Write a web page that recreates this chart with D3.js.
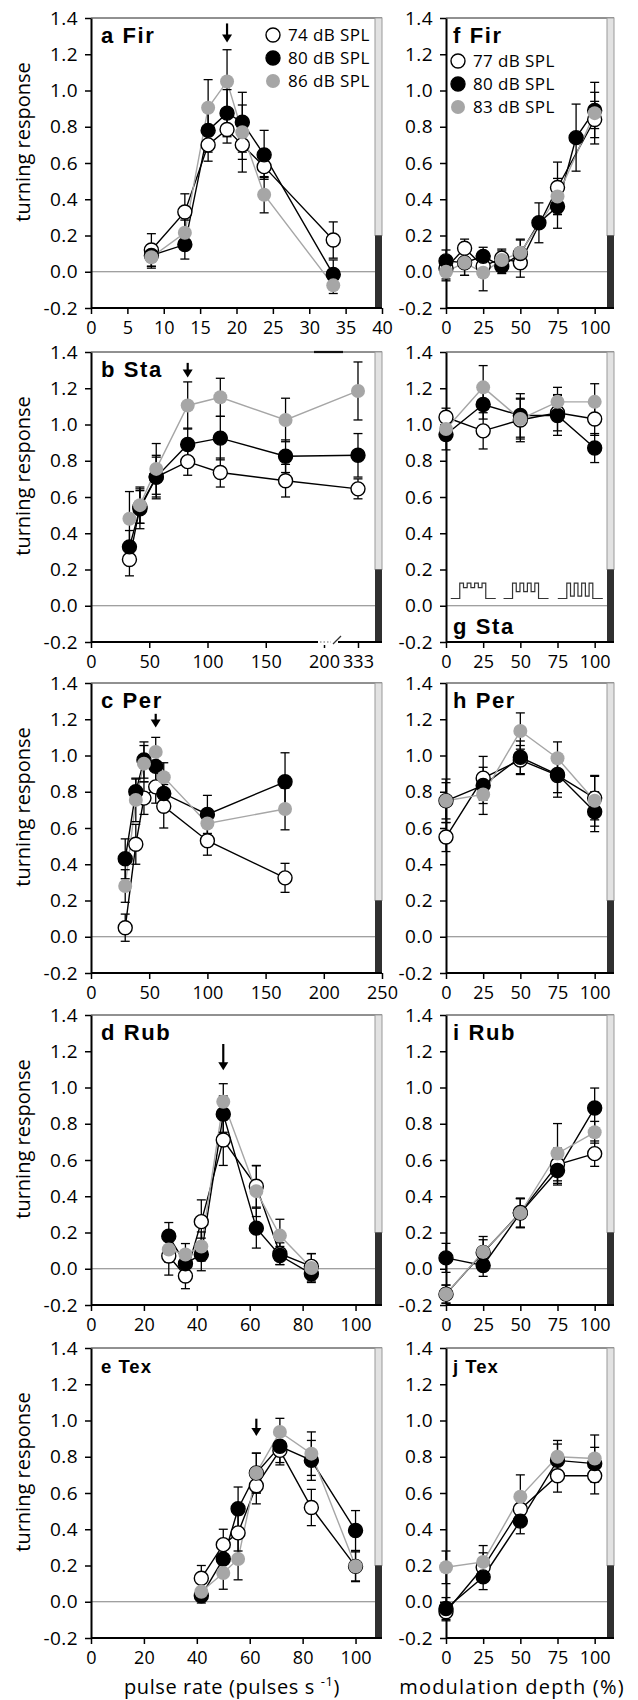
<!DOCTYPE html>
<html><head><meta charset="utf-8">
<script src="https://cdn.jsdelivr.net/npm/d3@7"></script>
<style>
body{margin:0;background:#fff;}
svg text{font-family:"Open Sans",sans-serif;}
</style></head><body>
<svg id="chart" width="638" height="1700"></svg>
<script>
// ---------------- DATA ----------------
const yTicks = [-0.2, 0, 0.2, 0.4, 0.6, 0.8, 1.0, 1.2, 1.4];
const yTickLabels = ["-0.2", "0.0", "0.2", "0.4", "0.6", "0.8", "1.0", "1.2", "1.4"];
const rateLegend = ["74 dB SPL", "80 dB SPL", "86 dB SPL"];
const depthLegend = ["77 dB SPL", "80 dB SPL", "83 dB SPL"];

// a Fir (pulse rate)
const aRate = [8.3, 12.9, 16.1, 18.7, 20.8, 23.8, 33.3];
const a74 = [0.12, 0.33, 0.70, 0.785, 0.70, 0.58, 0.175];
const a74Err = [0.09, 0.10, 0.09, 0.075, 0.15, 0.06, 0.10];
const a80 = [0.09, 0.15, 0.78, 0.875, 0.825, 0.645, -0.015];
const a80Err = [0.06, 0.08, 0.12, 0.13, 0.165, 0.135, 0.08];
const a86 = [0.08, 0.215, 0.905, 1.05, 0.77, 0.425, -0.075];
const a86Err = [0.06, 0.07, 0.155, 0.175, 0.15, 0.10, 0.045];
const aTicks = [0, 5, 10, 15, 20, 25, 30, 35, 40];

// b Sta (pulse rate)
const bRate = [33, 42, 56, 83, 111, 167, 333];
const b74 = [0.255, 0.545, 0.71, 0.795, 0.735, 0.69, 0.645];
const b74Err = [0.09, 0.09, 0.11, 0.075, 0.08, 0.09, 0.055];
const b80 = [0.325, 0.535, 0.71, 0.89, 0.925, 0.825, 0.83];
const b80Err = [0.09, 0.11, 0.12, 0.09, 0.12, 0.09, 0.12];
const b86 = [0.48, 0.555, 0.755, 1.105, 1.15, 1.025, 1.185];
const b86Err = [0.15, 0.10, 0.14, 0.13, 0.105, 0.12, 0.16];
const bTicks = [0, 50, 100, 150, 200, 333];

// c Per (pulse rate)
const cRate = [29.4, 38.5, 45.5, 55.6, 62.5, 100, 166.7];
const c74 = [0.05, 0.51, 0.765, 0.827, 0.72, 0.53, 0.325];
const c74Err = [0.075, 0.11, 0.09, 0.09, 0.12, 0.08, 0.08];
const c80 = [0.43, 0.80, 0.975, 0.94, 0.79, 0.675, 0.855];
const c80Err = [0.11, 0.07, 0.10, 0.09, 0.10, 0.105, 0.16];
const c86 = [0.28, 0.755, 0.955, 1.02, 0.88, 0.625, 0.705];
const c86Err = [0.09, 0.12, 0.10, 0.08, 0.08, 0.08, 0.115];
const cTicks = [0, 50, 100, 150, 200, 250];

// d Rub (pulse rate)
const dRate = [29.4, 35.7, 41.7, 50, 62.5, 71.4, 83.3];
const d74 = [0.07, -0.04, 0.26, 0.71, 0.455, 0.083, 0.013];
const d74Err = [0.105, 0.07, 0.12, 0.14, 0.115, 0.06, 0.07];
const d80 = [0.18, 0.028, 0.079, 0.853, 0.224, 0.073, -0.028];
const d80Err = [0.075, 0.06, 0.09, 0.10, 0.11, 0.05, 0.04];
const d86 = [0.106, 0.079, 0.123, 0.921, 0.428, 0.183, 0.004];
const d86Err = [0.07, 0.06, 0.08, 0.10, 0.14, 0.09, 0.08];
const deTicks = [0, 20, 40, 60, 80, 100];

// e Tex (pulse rate)
const eRate = [41.7, 50, 55.6, 62.5, 71.4, 83.3, 100];
const e74 = [0.13, 0.315, 0.38, 0.64, 0.835, 0.52, 0.195];
const e74Err = [0.07, 0.085, 0.10, 0.10, 0.08, 0.10, 0.08];
const e80 = [0.033, 0.236, 0.513, 0.71, 0.858, 0.78, 0.393];
const e80Err = [0.04, 0.07, 0.12, 0.11, 0.09, 0.11, 0.11];
const e86 = [0.055, 0.159, 0.236, 0.71, 0.937, 0.817, 0.196];
const e86Err = [0.05, 0.09, 0.115, 0.11, 0.075, 0.12, 0.085];

// f Fir (modulation depth)
const fDepth = [0, 12.5, 25, 37.5, 50, 62.5, 75, 87.5, 100];
const f77 = [0.02, 0.13, 0.03, 0.075, 0.05, null, 0.465, null, 0.84];
const f77Err = [0.06, 0.05, 0.06, 0.05, 0.08, null, 0.14, null, 0.10];
const f80 = [0.06, 0.05, 0.085, 0.03, 0.10, 0.27, 0.36, 0.74, 0.89];
const f80Err = [0.06, 0.07, 0.05, 0.04, 0.08, 0.11, 0.12, 0.185, 0.10];
const f83 = [0.0, 0.05, -0.005, 0.065, 0.105, null, 0.415, null, 0.875];
const f83Err = [0.05, 0.07, 0.10, 0.05, 0.07, null, 0.10, null, 0.17];

// g..j (modulation depth)
const depth = [0, 25, 50, 75, 100];
const depthTicks = [0, 25, 50, 75, 100];
const g77 = [1.04, 0.965, 1.025, 1.065, 1.03];
const g77Err = [0.05, 0.10, 0.12, 0.10, 0.09];
const g80 = [0.945, 1.11, 1.05, 1.05, 0.87];
const g80Err = [0.085, 0.08, 0.12, 0.11, 0.08];
const g83 = [0.975, 1.205, 1.03, 1.125, 1.125];
const g83Err = [0.06, 0.12, 0.11, 0.08, 0.10];

const h77 = [0.55, 0.875, 0.975, 0.89, 0.765];
const h77Err = [0.08, 0.12, 0.08, 0.12, 0.12];
const h80 = [0.75, 0.835, 0.99, 0.895, 0.69];
const h80Err = [0.12, 0.10, 0.09, 0.10, 0.11];
const h83 = [0.75, 0.785, 1.135, 0.985, 0.75];
const h83Err = [0.10, 0.11, 0.10, 0.09, 0.14];

const i77 = [-0.14, 0.09, 0.31, 0.575, 0.635];
const i77Err = [0.05, 0.07, 0.08, 0.09, 0.07];
const i80 = [0.06, 0.018, 0.307, 0.542, 0.887];
const i80Err = [0.08, 0.06, 0.08, 0.08, 0.11];
const i83 = [-0.14, 0.093, 0.307, 0.636, 0.753];
const i83Err = [0.05, 0.085, 0.08, 0.165, 0.06];

const j77 = [-0.055, 0.19, 0.51, 0.695, 0.695];
const j77Err = [0.05, 0.08, 0.07, 0.09, 0.10];
const j80 = [-0.037, 0.137, 0.445, 0.78, 0.762];
const j80Err = [0.06, 0.07, 0.07, 0.09, 0.09];
const j83 = [0.19, 0.22, 0.58, 0.80, 0.79];
const j83Err = [0.09, 0.09, 0.12, 0.09, 0.13];

// arrows: [x, yFrom, yTo] in data units
const aArrow = [18.7, 1.37, 1.265];
const bArrow = [83, 1.34, 1.26];
const cArrow = [55.6, 1.23, 1.155];
const dArrow = [50, 1.24, 1.095];
const eArrow = [62.5, 1.01, 0.915];

// stimulus icons in panel g: centre (depth units), notch depth (%)
const iconCentres = [18, 53.5, 90];
const iconNotch = [30, 55, 85];
const iconLevels = [0.04, 0.125];

// ---------------- LAYOUT ----------------
const svg = d3.select("#chart");
const rowTops = [18, 352, 683, 1015, 1348];
const plotH = 290;
const cols = [{x0: 91, x1: 382}, {x0: 446, x1: 614}];
const barW = 7;
const GREY = "#a6a6a6";
const markFill = ["#fff", "#000", GREY];
const markStroke = ["#000", "#000", "none"];
const lineCol = ["#000", "#000", GREY];
const R = 7;

const panels = [
  {label: "a Fir", col: 0, row: 0, xs: aRate, ys: [a74, a80, a86], es: [a74Err, a80Err, a86Err], dom: [0, 40], ticks: aTicks, arrow: aArrow, legend: rateLegend},
  {label: "b Sta", col: 0, row: 1, xs: bRate, ys: [b74, b80, b86], es: [b74Err, b80Err, b86Err], dom: [0, 200, 333], ticks: bTicks, arrow: bArrow, brk: true},
  {label: "c Per", col: 0, row: 2, xs: cRate, ys: [c74, c80, c86], es: [c74Err, c80Err, c86Err], dom: [0, 250], ticks: cTicks, arrow: cArrow},
  {label: "d Rub", col: 0, row: 3, xs: dRate, ys: [d74, d80, d86], es: [d74Err, d80Err, d86Err], dom: [0, 110], ticks: deTicks, arrow: dArrow},
  {label: "e Tex", col: 0, row: 4, xs: eRate, ys: [e74, e80, e86], es: [e74Err, e80Err, e86Err], dom: [0, 110], ticks: deTicks, arrow: eArrow, small: true},
  {label: "f Fir", col: 1, row: 0, xs: fDepth, ys: [f77, f80, f83], es: [f77Err, f80Err, f83Err], dom: [0, 113], ticks: depthTicks, legend: depthLegend},
  {label: "g Sta", col: 1, row: 1, xs: depth, ys: [g77, g80, g83], es: [g77Err, g80Err, g83Err], dom: [0, 113], ticks: depthTicks, labelBottom: true, icons: true},
  {label: "h Per", col: 1, row: 2, xs: depth, ys: [h77, h80, h83], es: [h77Err, h80Err, h83Err], dom: [0, 113], ticks: depthTicks},
  {label: "i Rub", col: 1, row: 3, xs: depth, ys: [i77, i80, i83], es: [i77Err, i80Err, i83Err], dom: [0, 113], ticks: depthTicks},
  {label: "j Tex", col: 1, row: 4, xs: depth, ys: [j77, j80, j83], es: [j77Err, j80Err, j83Err], dom: [0, 113], ticks: depthTicks, small: true}
];

function drawPanel(p) {
  const {x0, x1} = cols[p.col];
  const top = rowTops[p.row], bottom = top + plotH;
  const g = svg.append("g");
  const y = d3.scaleLinear().domain([-0.2, 1.4]).range([bottom, top]);
  let x;
  if (p.dom.length === 3) {
    const w = x1 - x0;
    x = d3.scaleLinear().domain(p.dom).range([x0, x0 + w * 0.8007, x0 + w * 0.9175]);
  } else {
    x = d3.scaleLinear().domain(p.dom).range([x0, x1]);
  }

  // frame top
  g.append("line").attr("x1", x0).attr("x2", x1).attr("y1", top).attr("y2", top)
    .attr("stroke", "#222").attr("stroke-width", 1);
  // right bar
  g.append("rect").attr("x", x1 - barW).attr("width", barW)
    .attr("y", y(1.4)).attr("height", y(0.2) - y(1.4))
    .attr("fill", "#e2e2e2").attr("stroke", "#9a9a9a").attr("stroke-width", 1);
  g.append("rect").attr("x", x1 - barW).attr("width", barW)
    .attr("y", y(0.2)).attr("height", y(-0.2) - y(0.2)).attr("fill", "#303030");
  // zero line
  g.append("line").attr("x1", x0).attr("x2", x1 - barW).attr("y1", y(0)).attr("y2", y(0))
    .attr("stroke", "#808080").attr("stroke-width", 1);

  // axes
  const yAx = g.append("g").attr("transform", `translate(${x0},0)`)
    .call(d3.axisLeft(y).tickValues(yTicks).tickFormat((d, i) => yTickLabels[i]).tickSize(6).tickSizeOuter(0).tickPadding(7));
  const xAx = g.append("g").attr("transform", `translate(0,${bottom})`)
    .call(d3.axisBottom(x).tickValues(p.ticks).tickFormat(d => String(d)).tickSize(6).tickSizeOuter(0).tickPadding(7));
  [yAx, xAx].forEach(ax => {
    ax.select(".domain").attr("stroke", "#000").attr("stroke-width", 2);
    ax.selectAll(".tick line").attr("stroke", "#000").attr("stroke-width", 1.5);
    ax.selectAll(".tick text").attr("fill", "#000").attr("font-family", "Open Sans");
  });
  yAx.selectAll(".tick text").attr("font-size", 19).style("letter-spacing", "0.4px");
  xAx.selectAll(".tick text").attr("font-size", 18);
  xAx.select(".domain").attr("d", `M${x0},0H${x1}`);

  if (p.brk) {
    g.append("rect").attr("x", x0 + 227).attr("y", bottom - 3).attr("width", 20).attr("height", 6).attr("fill", "#fff");
    g.append("line").attr("x1", x0 + 229).attr("x2", x0 + 240).attr("y1", bottom).attr("y2", bottom)
      .attr("stroke", "#666").attr("stroke-width", 1.2).attr("stroke-dasharray", "1.5,2");
    g.append("line").attr("x1", x0 + 242).attr("x2", x0 + 250).attr("y1", bottom + 2).attr("y2", bottom - 6)
      .attr("stroke", "#333").attr("stroke-width", 1.3);
    g.append("line").attr("x1", x0 + 223).attr("x2", x0 + 252).attr("y1", top).attr("y2", top)
      .attr("stroke", "#111").attr("stroke-width", 2.2);
  }

  // series lines
  p.ys.forEach((vals, s) => {
    const pts = p.xs.map((xv, i) => [xv, vals[i]]).filter(d => d[1] !== null);
    g.append("path").datum(pts)
      .attr("d", d3.line().x(d => x(d[0])).y(d => y(d[1])))
      .attr("fill", "none").attr("stroke", lineCol[s]).attr("stroke-width", 1.4);
  });
  // error bars
  p.ys.forEach((vals, s) => {
    p.xs.forEach((xv, i) => {
      const v = vals[i], e = p.es[s][i];
      if (v === null) return;
      const cx = x(xv), yl = y(v - e), yh = y(v + e);
      g.append("line").attr("x1", cx).attr("x2", cx).attr("y1", yl).attr("y2", yh).attr("stroke", "#000").attr("stroke-width", 1.3);
      [yl, yh].forEach(yy => g.append("line").attr("x1", cx - 4.5).attr("x2", cx + 4.5).attr("y1", yy).attr("y2", yy).attr("stroke", "#000").attr("stroke-width", 1.3));
    });
  });
  // markers
  p.ys.forEach((vals, s) => {
    p.xs.forEach((xv, i) => {
      if (vals[i] === null) return;
      g.append("circle").attr("cx", x(xv)).attr("cy", y(vals[i])).attr("r", R)
        .attr("fill", markFill[s]).attr("stroke", markStroke[s]).attr("stroke-width", 1.4);
    });
  });

  // arrow
  if (p.arrow) {
    const ax = x(p.arrow[0]), ya = y(p.arrow[1]), yb = y(p.arrow[2]);
    g.append("line").attr("x1", ax).attr("x2", ax).attr("y1", ya).attr("y2", yb - 5).attr("stroke", "#000").attr("stroke-width", 2.2);
    g.append("path").attr("d", `M${ax - 5},${yb - 8}L${ax + 5},${yb - 8}L${ax},${yb}Z`).attr("fill", "#000");
  }

  // stimulus icons
  if (p.icons) {
    const yb = y(iconLevels[0]), yt = y(iconLevels[1]);
    iconCentres.forEach((c, k) => {
      const cx = x(c);
      const ylow = yt + (yb - yt) * iconNotch[k] / 100;
      const path = d3.path();
      path.moveTo(cx - 22, yb); path.lineTo(cx - 13, yb); path.lineTo(cx - 13, yt);
      const seg = 26 / 7;
      for (let q = 0; q < 7; q++) {
        const lvl = q % 2 === 0 ? yt : ylow;
        const xs0 = cx - 13 + q * seg;
        if (q > 0) path.lineTo(xs0, lvl);
        path.lineTo(xs0 + seg, lvl);
        if (q < 6) path.lineTo(xs0 + seg, q % 2 === 0 ? ylow : yt);
      }
      path.lineTo(cx + 13, yb); path.lineTo(cx + 23, yb);
      g.append("path").attr("d", path.toString()).attr("fill", "none").attr("stroke", "#333").attr("stroke-width", 1.2);
    });
  }

  // panel label
  const lx = p.col === 0 ? x0 + 10 : x0 + 7;
  const ly = p.labelBottom ? bottom - 8 : top + 25;
  g.append("text").attr("x", lx).attr("y", ly).text(p.label)
    .style("font-family", "'Liberation Sans', Arial, sans-serif")
    .attr("font-weight", "bold").attr("font-size", p.small ? 18.5 : 22).style("letter-spacing", p.small ? "1px" : "1.6px").attr("fill", "#000");

  // legend
  if (p.legend) {
    const lgx = p.col === 0 ? x0 + 182 : x0 + 12;
    const lgy = p.col === 0 ? top + 17 : top + 43;
    p.legend.forEach((name, s) => {
      const cy = lgy + s * 23;
      g.append("circle").attr("cx", lgx).attr("cy", cy).attr("r", R)
        .attr("fill", markFill[s]).attr("stroke", markStroke[s]).attr("stroke-width", 1.4);
      g.append("text").attr("x", lgx + 15).attr("y", cy + 6).text(name)
        .attr("font-size", 17).style("letter-spacing", "0.4px").attr("fill", "#000");
    });
  }

  // y title for left column
  if (p.col === 0) {
    g.append("text").attr("transform", `translate(30,${top + 124}) rotate(-90)`)
      .attr("text-anchor", "middle").attr("font-size", 20)
      .attr("fill", "#000").text("turning response");
  }
}

panels.forEach(drawPanel);

// x titles
const xt = svg.append("text").attr("x", 232).attr("y", 1694).attr("text-anchor", "middle")
  .attr("font-size", 20).style("letter-spacing", "0.6px").attr("fill", "#000");
xt.append("tspan").text("pulse rate (pulses s ");
xt.append("tspan").attr("font-size", 13).attr("dy", -8).text("-1");
xt.append("tspan").attr("dy", 8).text(")");
svg.append("text").attr("x", 512).attr("y", 1694).attr("text-anchor", "middle")
  .attr("font-size", 20).style("letter-spacing", "1.2px").attr("fill", "#000").text("modulation depth (%)");
</script>
</body></html>
